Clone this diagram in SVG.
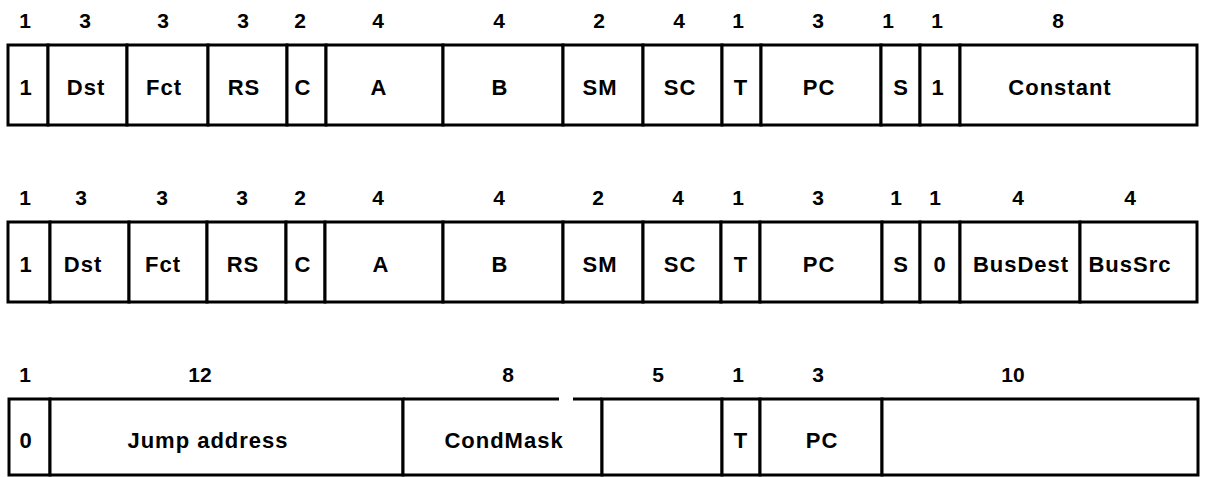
<svg xmlns="http://www.w3.org/2000/svg" width="1206" height="477" viewBox="0 0 1206 477">
<style>
  .f { fill: #fff; stroke: #000; stroke-width: 3; }
  .t { font-family: "Liberation Sans", Arial, sans-serif; font-weight: bold; font-size: 22px; letter-spacing: 1px; text-anchor: middle; fill: #000; }
  .n { font-family: "Liberation Sans", Arial, sans-serif; font-weight: bold; font-size: 21px; text-anchor: middle; fill: #000; }
</style>
<rect width="1206" height="477" fill="#fff"/>
<g id="row1">
  <g id="r1-f1"><rect class="f" x="8" y="45" width="40" height="80"/><text class="n" x="25" y="28">1</text><text class="t" x="26" y="95">1</text></g>
  <g id="r1-dst"><rect class="f" x="48" y="45" width="79" height="80"/><text class="n" x="85" y="28">3</text><text class="t" x="86" y="95">Dst</text></g>
  <g id="r1-fct"><rect class="f" x="127" y="45" width="81" height="80"/><text class="n" x="163" y="28">3</text><text class="t" x="164" y="95">Fct</text></g>
  <g id="r1-rs"><rect class="f" x="208" y="45" width="79" height="80"/><text class="n" x="243" y="28">3</text><text class="t" x="244" y="95">RS</text></g>
  <g id="r1-c"><rect class="f" x="287" y="45" width="39" height="80"/><text class="n" x="300" y="28">2</text><text class="t" x="303" y="95">C</text></g>
  <g id="r1-a"><rect class="f" x="326" y="45" width="117" height="80"/><text class="n" x="378" y="28">4</text><text class="t" x="379" y="95">A</text></g>
  <g id="r1-b"><rect class="f" x="443" y="45" width="120" height="80"/><text class="n" x="499" y="28">4</text><text class="t" x="500" y="95">B</text></g>
  <g id="r1-sm"><rect class="f" x="563" y="45" width="80" height="80"/><text class="n" x="599" y="28">2</text><text class="t" x="600" y="95">SM</text></g>
  <g id="r1-sc"><rect class="f" x="643" y="45" width="79" height="80"/><text class="n" x="679" y="28">4</text><text class="t" x="680" y="95">SC</text></g>
  <g id="r1-t"><rect class="f" x="722" y="45" width="39" height="80"/><text class="n" x="738" y="28">1</text><text class="t" x="741" y="95">T</text></g>
  <g id="r1-pc"><rect class="f" x="761" y="45" width="120" height="80"/><text class="n" x="818" y="28">3</text><text class="t" x="819" y="95">PC</text></g>
  <g id="r1-s"><rect class="f" x="881" y="45" width="39" height="80"/><text class="n" x="888" y="28">1</text><text class="t" x="901" y="95">S</text></g>
  <g id="r1-f1b"><rect class="f" x="920" y="45" width="40" height="80"/><text class="n" x="937" y="28">1</text><text class="t" x="938" y="95">1</text></g>
  <g id="r1-constant"><rect class="f" x="960" y="45" width="237" height="80"/><text class="n" x="1058" y="28">8</text><text class="t" x="1060" y="95">Constant</text></g>
</g>
<g id="row2">
  <g id="r2-f1"><rect class="f" x="8" y="222" width="42" height="80"/><text class="n" x="25" y="205">1</text><text class="t" x="26" y="272">1</text></g>
  <g id="r2-dst"><rect class="f" x="50" y="222" width="79" height="80"/><text class="n" x="81" y="205">3</text><text class="t" x="83" y="272">Dst</text></g>
  <g id="r2-fct"><rect class="f" x="129" y="222" width="78" height="80"/><text class="n" x="162" y="205">3</text><text class="t" x="163" y="272">Fct</text></g>
  <g id="r2-rs"><rect class="f" x="207" y="222" width="79" height="80"/><text class="n" x="242" y="205">3</text><text class="t" x="243" y="272">RS</text></g>
  <g id="r2-c"><rect class="f" x="286" y="222" width="39" height="80"/><text class="n" x="300" y="205">2</text><text class="t" x="303" y="272">C</text></g>
  <g id="r2-a"><rect class="f" x="325" y="222" width="118" height="80"/><text class="n" x="378" y="205">4</text><text class="t" x="381" y="272">A</text></g>
  <g id="r2-b"><rect class="f" x="443" y="222" width="120" height="80"/><text class="n" x="499" y="205">4</text><text class="t" x="500" y="272">B</text></g>
  <g id="r2-sm"><rect class="f" x="563" y="222" width="80" height="80"/><text class="n" x="598" y="205">2</text><text class="t" x="600" y="272">SM</text></g>
  <g id="r2-sc"><rect class="f" x="643" y="222" width="78" height="80"/><text class="n" x="678" y="205">4</text><text class="t" x="680" y="272">SC</text></g>
  <g id="r2-t"><rect class="f" x="721" y="222" width="39" height="80"/><text class="n" x="738" y="205">1</text><text class="t" x="741" y="272">T</text></g>
  <g id="r2-pc"><rect class="f" x="760" y="222" width="122" height="80"/><text class="n" x="818" y="205">3</text><text class="t" x="819" y="272">PC</text></g>
  <g id="r2-s"><rect class="f" x="882" y="222" width="38" height="80"/><text class="n" x="896" y="205">1</text><text class="t" x="901" y="272">S</text></g>
  <g id="r2-f0"><rect class="f" x="920" y="222" width="40" height="80"/><text class="n" x="935" y="205">1</text><text class="t" x="940" y="272">0</text></g>
  <g id="r2-busdest"><rect class="f" x="960" y="222" width="120" height="80"/><text class="n" x="1018" y="205">4</text><text class="t" x="1021" y="272">BusDest</text></g>
  <g id="r2-bussrc"><rect class="f" x="1080" y="222" width="117" height="80"/><text class="n" x="1130" y="205">4</text><text class="t" x="1130" y="272">BusSrc</text></g>
</g>
<g id="row3">
  <g id="r3-f0"><rect class="f" x="9" y="399" width="41" height="76"/><text class="n" x="25" y="382">1</text><text class="t" x="26" y="448">0</text></g>
  <g id="r3-jump"><rect class="f" x="50" y="399" width="353" height="76"/><text class="n" x="200" y="382">12</text><text class="t" x="208" y="448">Jump address</text></g>
  <g id="r3-condmask"><path class="f" d="M403,399 V475 H602 V399 M403,399 H559 M573,399 H602"/><text class="n" x="508" y="382">8</text><text class="t" x="504" y="448">CondMask</text></g>
  <g id="r3-f5"><rect class="f" x="602" y="399" width="120" height="76"/><text class="n" x="658" y="382">5</text></g>
  <g id="r3-t"><rect class="f" x="722" y="399" width="38" height="76"/><text class="n" x="738" y="382">1</text><text class="t" x="741" y="448">T</text></g>
  <g id="r3-pc"><rect class="f" x="760" y="399" width="122" height="76"/><text class="n" x="818" y="382">3</text><text class="t" x="822" y="448">PC</text></g>
  <g id="r3-f10"><rect class="f" x="882" y="399" width="316" height="76"/><text class="n" x="1013" y="382">10</text></g>
</g>
</svg>
